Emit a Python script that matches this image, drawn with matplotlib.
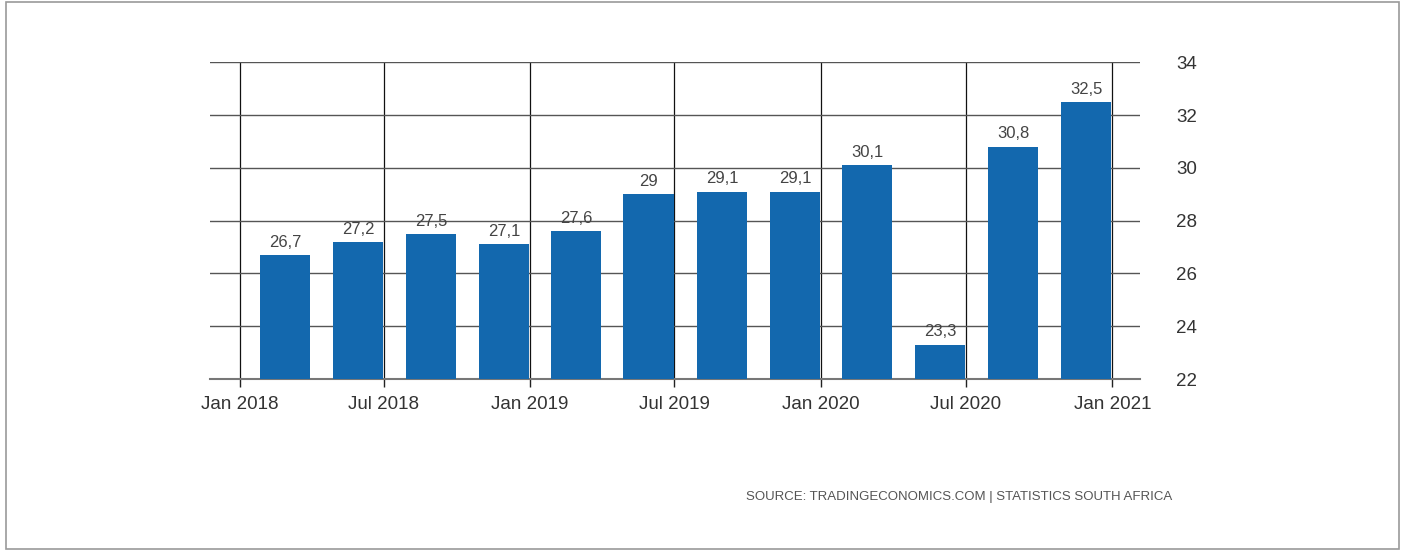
import datetime as dt
import matplotlib
matplotlib.use("Agg")
import matplotlib.pyplot as plt
import matplotlib.dates as mdates
from matplotlib.patches import Rectangle

plt.rcParams['font.family'] = ['Liberation Sans', 'DejaVu Sans']

# quarterly unemployment rate, South Africa
quarters = ["2018-03-31", "2018-06-30", "2018-09-30", "2018-12-31",
            "2019-03-31", "2019-06-30", "2019-09-30", "2019-12-31",
            "2020-03-31", "2020-06-30", "2020-09-30", "2020-12-31"]
rates = [26.7, 27.2, 27.5, 27.1, 27.6, 29.0, 29.1, 29.1, 30.1, 23.3, 30.8, 32.5]
yticks = [22, 24, 26, 28, 30, 32, 34]

dates = [dt.datetime.strptime(q, "%Y-%m-%d") for q in quarters]
bar_color = "#1368ae"

fig = plt.figure(figsize=(14.05, 5.51), dpi=100)
fig.patches.append(Rectangle((0.004, 0.004), 0.992, 0.992, transform=fig.transFigure,
                             fill=False, edgecolor="#9a9a9a", linewidth=1.2))

ax = fig.add_axes([0.1495, 0.312, 0.662, 0.575])

# bars end on the last day of each quarter
ax.bar(dates, [r - 22 for r in rates], bottom=22, width=-63, align="edge",
       color=bar_color, zorder=3)

for d, r in zip(dates, rates):
    label = f"{r:g}".replace(".", ",")
    ax.text(d - dt.timedelta(days=31), r + 0.2, label, ha="center", va="bottom",
            fontsize=12, color="#444444", zorder=4)

ax.set_ylim(22, 34)
ax.set_xlim(dt.datetime(2017, 11, 25), dt.datetime(2021, 2, 5))
ax.set_yticks(yticks)
ax.yaxis.tick_right()
ax.tick_params(axis="y", length=0, pad=26, labelsize=13.5, labelcolor="#333333")

ax.xaxis.set_major_locator(mdates.MonthLocator(bymonth=[1, 7]))
ax.xaxis.set_major_formatter(mdates.DateFormatter("%b %Y"))
ax.tick_params(axis="x", length=6, width=1, color="#222222", pad=6,
               labelsize=13.5, labelcolor="#333333")

ax.grid(axis="y", color="#555555", linewidth=1.0, zorder=1)
ax.grid(axis="x", color="#111111", linewidth=0.9, zorder=1)

for side in ["top", "left", "right"]:
    ax.spines[side].set_visible(False)
ax.spines["bottom"].set_color("#777777")
ax.spines["bottom"].set_linewidth(1.5)

fig.text(0.834, 0.098, "SOURCE: TRADINGECONOMICS.COM | STATISTICS SOUTH AFRICA",
         ha="right", va="center", fontsize=9.5, color="#555555")

fig.savefig("out.png", dpi=100)
